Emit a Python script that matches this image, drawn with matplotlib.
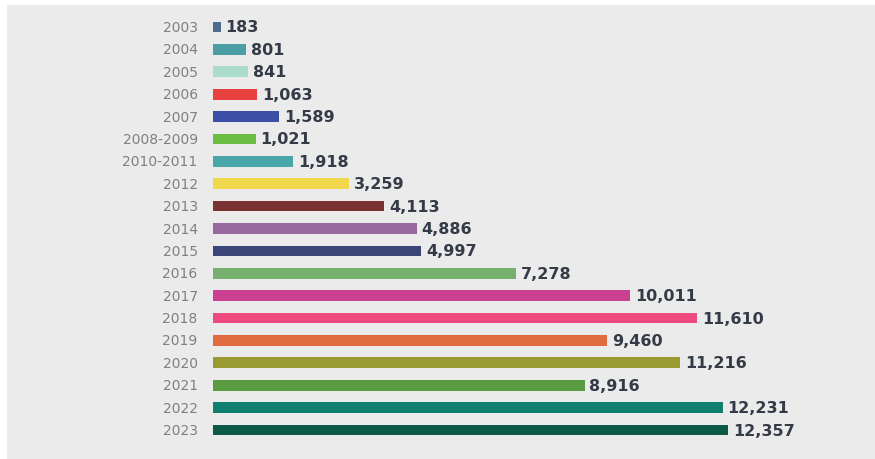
import matplotlib
matplotlib.use("Agg")
import matplotlib.pyplot as plt
from matplotlib.patches import Rectangle

# data
years = ["2003", "2004", "2005", "2006", "2007", "2008-2009", "2010-2011",
         "2012", "2013", "2014", "2015", "2016", "2017", "2018", "2019",
         "2020", "2021", "2022", "2023"]
counts = [183, 801, 841, 1063, 1589, 1021, 1918, 3259, 4113, 4886, 4997,
          7278, 10011, 11610, 9460, 11216, 8916, 12231, 12357]
colors = ["#4d6d8c", "#4a9ea4", "#a9dccb", "#e6403f", "#3c4ea6", "#6cbd44",
          "#4aa7a9", "#f1d84c", "#7a3232", "#97679f", "#3b4577", "#77b06e",
          "#cb4191", "#ee4a80", "#e06b3f", "#989a32", "#5a9a41", "#0f8070",
          "#0b5a48"]

fig = plt.figure(figsize=(8.75, 4.6), dpi=100)
fig.patch.set_facecolor("#ebebeb")
# white strips along the top and left edge of the panel
fig.patches.append(Rectangle((0, 454 / 460), 1, 6 / 460, transform=fig.transFigure,
                             facecolor="white", edgecolor="none", zorder=0))
fig.patches.append(Rectangle((0, 0), 7 / 875, 1, transform=fig.transFigure,
                             facecolor="white", edgecolor="none", zorder=0))

ax = fig.add_axes([7 / 875, 0, 868 / 875, 454 / 460])
ax.patch.set_visible(False)

pos = list(range(len(years)))
ax.barh(pos, counts, height=0.48, color=colors)

for p, v, lab in zip(pos, counts, years):
    ax.annotate(f"{v:,}", (v, p), xytext=(3.5, 0), textcoords="offset points",
                va="center", ha="left", fontsize=11.5, fontweight="heavy",
                color="#343a46")
    ax.annotate(lab, (0, p), xytext=(-11, 0), textcoords="offset points",
                va="center", ha="right", fontsize=10, color="#808080")

# scale so 0 sits at 213px and 12,357 at 728px
ax.set_xlim(-4943, -4943 + 868 / 0.041677)
# rows 22.4px apart, first at 28px, last at 431px
ax.set_ylim(18 + 29 / 22.4, -22 / 22.4)
for s in ax.spines.values():
    s.set_visible(False)
ax.set_xticks([])
ax.set_yticks([])

fig.savefig("out.png", dpi=100, facecolor=fig.get_facecolor())
